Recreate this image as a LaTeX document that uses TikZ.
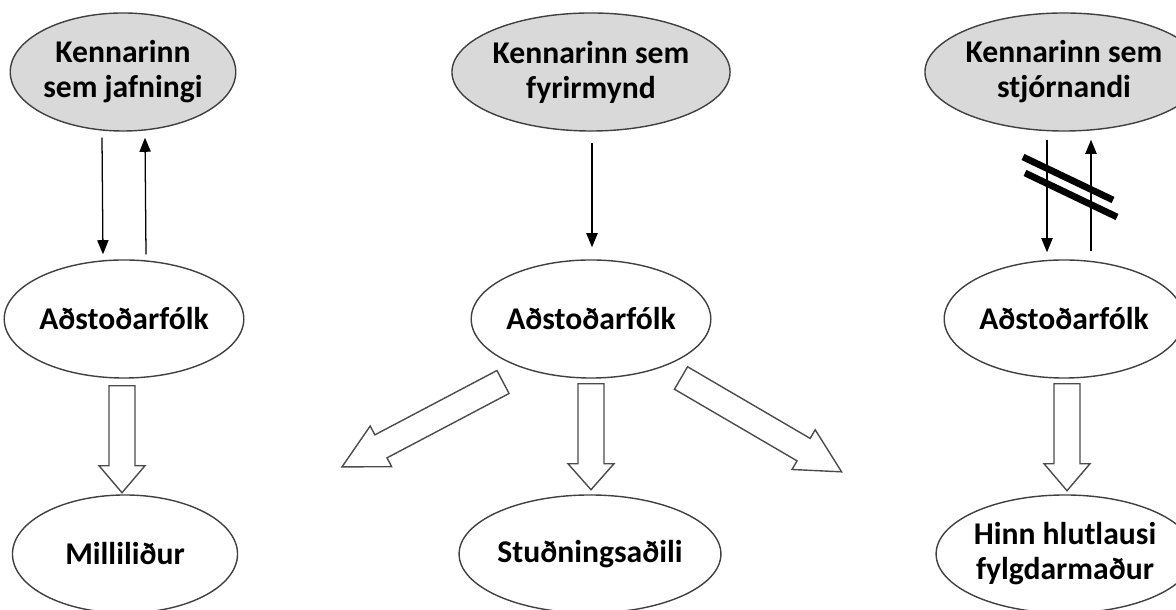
\documentclass[tikz,border=0pt]{standalone}
\usepackage{fontspec}
\setmainfont{Carlito}
\usetikzlibrary{shapes.geometric,arrows.meta}

\tikzset{
  role/.style={ellipse,draw=black!75,line width=1pt,minimum width=5.625cm,
    minimum height=2.95cm,inner sep=0pt,align=center,
    font=\fontsize{22.5}{25}\selectfont\bfseries},
  teacher/.style={role,fill=black!15},
  link/.style={line width=0.9pt,-{Triangle[length=10pt,width=8pt]}},
  hollow/.style={draw=black!70,line width=1pt,fill=white,line join=miter},
  pics/fatarrow/.style 2 args={code={
    \draw[hollow] (0,-13) -- ({#1-#2},-13) -- ({#1-#2},-23) -- (#1,0)
      -- ({#1-#2},23) -- ({#1-#2},13) -- (0,13) -- cycle;
  }}
}

\begin{document}
\begin{tikzpicture}[x=0.025cm,y=0.025cm]
\useasboundingbox (0,0) rectangle (1176,610);

% teachers
\node[teacher] (t1) at (123,538) {Kennarinn\\sem jafningi};
\node[teacher] (t2) at (591,538) {Kennarinn sem\\fyrirmynd};
\node[teacher] (t3) at (1064,538) {Kennarinn sem\\stjórnandi};

% assistants
\node[role] (m1) at (124,291) {Aðstoðarfólk};
\node[role] (m2) at (591,291) {Aðstoðarfólk};
\node[role] (m3) at (1064,291) {Aðstoðarfólk};

% roles
\node[role] (b1) at (125,56) {Milliliður};
\node[role] (b2) at (590,56) {Stuðningsaðili};
\node[role] (b3) at (1065,56) {Hinn hlutlausi\\fylgdarmaður};

% teacher <-> assistants
\draw[link] ([shift={(-21,-6)}]t1.south) -- ([shift={(-21,5)}]m1.north);
\draw[link] ([shift={(22,5)}]m1.north) -- ([shift={(22,-6)}]t1.south);
\draw[link] ([shift={(1,-11)}]t2.south) -- ([shift={(1,12)}]m2.north);
\draw[link] ([shift={(-17,-8)}]t3.south) -- ([shift={(-17,7)}]m3.north);
\draw[link] ([shift={(27,8)}]m3.north) -- ([shift={(27,-8)}]t3.south);
\draw[line width=4.8pt] (1023,453) -- (1113,410);
\draw[line width=4.8pt] (1025,437) -- (1117,393);

% block arrows
\pic[rotate=-90] at ([shift={(-2,-7)}]m1.south) {fatarrow={107}{27}};
\pic[rotate=-90] at ([shift={(0,-5)}]m2.south) {fatarrow={106}{26}};
\pic[rotate=-90] at ([shift={(3,-5)}]m3.south) {fatarrow={107}{27}};
\pic[rotate=207.8] at ([shift={(-88,-63)}]m2.center) {fatarrow={182}{44}};
\pic[rotate=-30.3] at ([shift={(90,-59)}]m2.center) {fatarrow={186}{44}};
\end{tikzpicture}
\end{document}
